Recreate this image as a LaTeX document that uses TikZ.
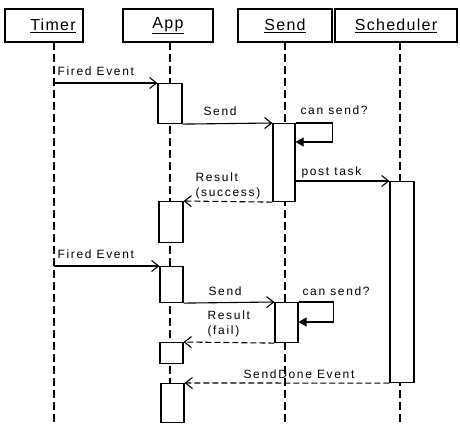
\documentclass[tikz,border=0pt]{standalone}
\usepackage{fontspec}
\setmainfont{Liberation Sans}
\usetikzlibrary{arrows.meta}

\begin{document}
\begin{tikzpicture}[x=1pt, y=-1pt, line width=1.1pt,
        head/.style = {draw, minimum height=33pt, inner sep=0pt, font=\fontsize{16}{18}\selectfont\addfontfeature{LetterSpace=8}},
        act/.style = {draw, fill=white, minimum width=23pt, inner sep=0pt, anchor=north},
        life/.style = {dash pattern=on 8pt off 4pt},
        msg/.style = {-{Straight Barb[length=7pt,width=11pt]}},
        ret/.style = {msg, dash pattern=on 6pt off 3pt},
        self/.style = {-{Triangle[length=8pt,width=9pt]}},
        lbl/.style = {anchor=base west, inner sep=0pt, align=left, font=\fontsize{12}{15}\selectfont\addfontfeature{LetterSpace=14}}]
        \useasboundingbox (0,0) rectangle (460,425);
        % objects
        \node[head, minimum width=78pt]  (timer) at (44,25.5)  {\hspace*{18pt}\underline{Timer}};
        \node[head, minimum width=90pt]  (app)   at (168,25.5) {\underline{App}};
        \node[head, minimum width=94pt]  (send)  at (285,25.5) {\underline{Send}};
        \node[head, minimum width=122pt] (sched) at (396,25.5) {\underline{Scheduler}};
        \coordinate (tl) at (54,42);
        \coordinate (al) at (170,42);
        \coordinate (sl) at (285,42);
        \coordinate (cl) at (400,42);
        % lifelines
        \foreach \l in {tl,al,sl,cl}
            \draw[life] (\l) -- (\l |- 0,425);
        % activations
        \node[act, minimum width=24pt, minimum height=40pt]  (app1) at (170,83) {};
        \node[act, minimum width=22pt, minimum height=78pt]  (snd1) at (284,123) {};
        \node[act, minimum width=24pt, minimum height=201pt] (sch)  at (402,181) {};
        \node[act, minimum width=24pt, minimum height=41pt]  (app2) at (171,201) {};
        \node[act, minimum height=36pt] (app3) at (171.5,266) {};
        \node[act, minimum height=40pt] (snd2) at (286.5,302) {};
        \node[act, minimum height=21pt] (app4) at (171.5,342) {};
        \node[act, minimum height=39pt] (app5) at (172.5,383) {};
        % messages
        \draw[msg] (tl |- app1.north) -- (app1.north west);
        \draw[msg] (app1.south east) -- (snd1.north west);
        \draw[self] (snd1.north east) -- ++(37,0) -- ++(0,19) -- ++(-37,0);
        \draw[msg] (snd1.east |- sch.north) -- (sch.north west);
        \draw[ret] (snd1.south west) -- (app2.north east);
        \draw[msg] (tl |- app3.north) -- (app3.north west);
        \draw[msg] (app3.south east) -- (snd2.north west);
        \draw[self] (snd2.north east) -- ++(35,0) -- ++(0,20) -- ++(-35,0);
        \draw[ret] (snd2.south west) -- (app4.north east);
        \draw[ret] (sch.south west) -- (app5.north east);
        % labels
        \node[lbl] (l1) at (57,76)   {Fired Event};
        \node[lbl] (l2) at (203,116) {Send};
        \node[lbl] (l3) at (300,114) {can send?};
        \node[lbl] (l4) at (301,175) {post task};
        \node[lbl] (l5) at (195,196) {Result\\(success)};
        \node[lbl] (l6) at (57,258)  {Fired Event};
        \node[lbl] (l7) at (208,295) {Send};
        \node[lbl] (l8) at (302,295) {can send?};
        \node[lbl] (l9) at (207,334) {Result\\(fail)};
        \node[lbl] (l10) at (243,378) {SendDone Event};
    \end{tikzpicture}
\end{document}
